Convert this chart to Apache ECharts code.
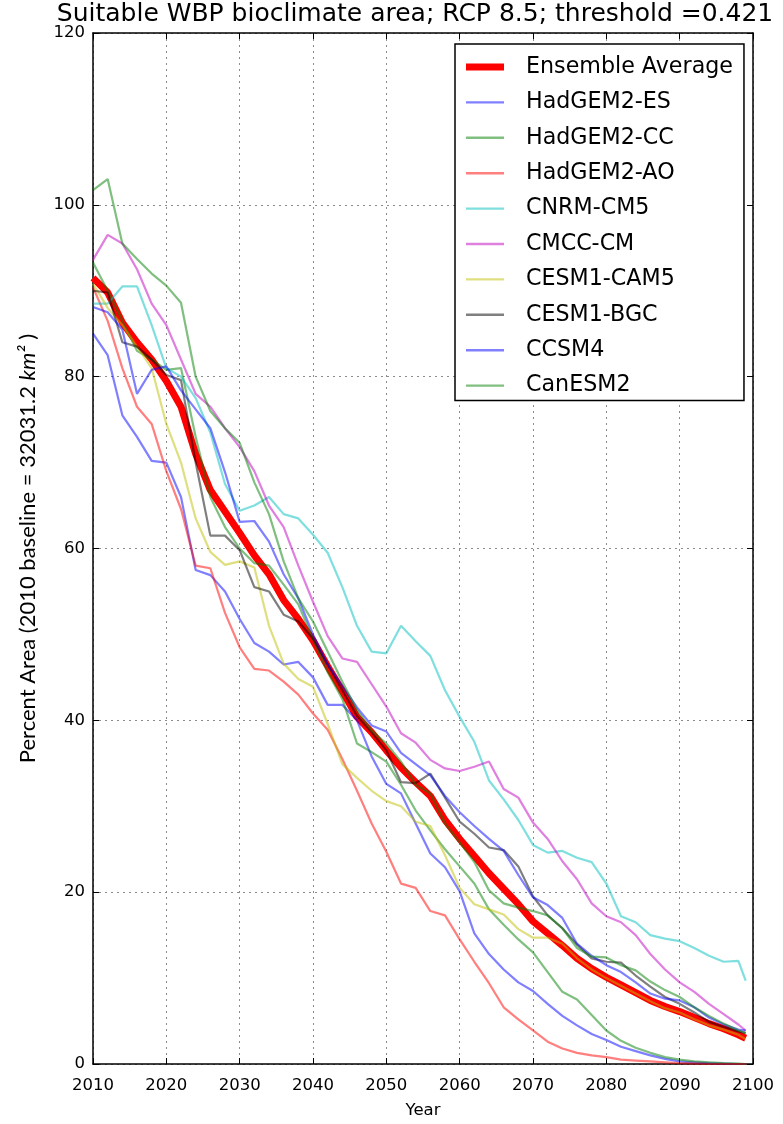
<!DOCTYPE html>
<html>
<head>
<meta charset="utf-8">
<title>Suitable WBP bioclimate area; RCP 8.5</title>
<script src="https://cdn.jsdelivr.net/npm/echarts@6/dist/echarts.min.js"></script>
<style>
  html, body { margin: 0; padding: 0; background: #fff; }
  #chart { width: 783px; height: 1124px; }
</style>
</head>
<body>
<div id="chart"></div>
<script>
// Simulation years (two-year steps, plus the final year)
const years = [2010, 2012, 2014, 2016, 2018, 2020, 2022, 2024, 2026, 2028,
  2030, 2032, 2034, 2036, 2038, 2040, 2042, 2044, 2046, 2048,
  2050, 2052, 2054, 2056, 2058, 2060, 2062, 2064, 2066, 2068,
  2070, 2072, 2074, 2076, 2078, 2080, 2082, 2084, 2086, 2088,
  2090, 2092, 2094, 2096, 2098, 2099];

// Percent of 2010 baseline area, per model
const ensembleAverage = [91.5, 89.8, 86.3, 84, 82, 79.5, 76.5, 71, 66.8, 64.3,
  61.8, 59.2, 57, 54, 51.8, 49.3, 46.3, 43.4, 40.4, 38.6,
  36.5, 34.5, 32.8, 31.2, 28.4, 26.2, 24.2, 22.2, 20.4, 18.6,
  16.6, 15.2, 13.8, 12.3, 11.1, 10.1, 9.2, 8.3, 7.4, 6.7,
  6.1, 5.4, 4.7, 4.1, 3.4, 3.0];
const hadgem2ES = [85, 82.5, 75.5, 73, 70.2, 70, 66, 57.5, 56.9, 55,
  51.8, 49, 48, 46.5, 46.8, 45, 41.8, 41.8, 40, 35.8,
  32.6, 31.5, 28, 24.5, 22.9, 20.1, 15.2, 12.8, 11, 9.5,
  8.5, 7, 5.6, 4.5, 3.5, 2.8, 2, 1.5, 1, 0.6,
  0.3, 0.2, 0.1, 0.05, 0, 0];
const hadgem2CC = [93.3, 90, 86.5, 83, 82, 80.8, 81, 73, 66, 62.5,
  60, 58.3, 58, 55.8, 53.5, 49.5, 45.6, 42.5, 37.3, 36.3,
  35.2, 32.5, 29.5, 27.2, 25, 23, 21, 18, 16.2, 14.5,
  13, 10.7, 8.4, 7.5, 5.7, 3.9, 2.7, 1.9, 1.3, 0.8,
  0.5, 0.3, 0.2, 0.1, 0.05, 0];
const hadgem2AO = [90.4, 86.5, 81, 76.5, 74.5, 69, 64.6, 58, 57.7, 52.5,
  48.5, 46, 45.8, 44.5, 43, 40.8, 38.9, 35.5, 31.8, 28,
  24.7, 21, 20.5, 17.8, 17.3, 14.5, 11.9, 9.4, 6.6, 5.2,
  3.9, 2.6, 1.8, 1.3, 1, 0.8, 0.5, 0.4, 0.3, 0.2,
  0.1, 0.05, 0, 0, 0, 0];
const cnrmCM5 = [88.5, 88.5, 90.5, 90.5, 86, 81, 80, 77.5, 73.5, 67.5,
  64.4, 65, 66, 64, 63.5, 61.6, 59.5, 55.5, 51, 48,
  47.8, 51, 49.2, 47.5, 43.5, 40.4, 37.5, 33, 30.8, 28.4,
  25.5, 24.6, 24.8, 24, 23.5, 21, 17.2, 16.5, 15, 14.6,
  14.3, 13.5, 12.6, 11.9, 12.0, 9.7];
const cmccCM = [93.6, 96.5, 95.5, 92.5, 88.5, 86, 82, 78, 76.5, 74,
  71.8, 69, 65, 62.5, 58, 53.8, 49.8, 47.2, 46.8, 44.2,
  41.6, 38.5, 37.4, 35.4, 34.4, 34.1, 34.6, 35.2, 32, 31,
  28.1, 26.2, 23.6, 21.5, 18.7, 17.2, 16.5, 15, 12.8, 11,
  9.5, 8.4, 7, 5.8, 4.6, 3.9];
const cesm1CAM5 = [90.8, 88, 86, 83.5, 81, 74.5, 70, 63.5, 59.6, 58.1,
  58.5, 57.8, 51, 46.6, 44.8, 43.9, 39.6, 34.9, 33.3, 31.8,
  30.6, 30, 28.2, 27.7, 24.3, 20.5, 18.6, 18, 17.4, 15.7,
  14.7, 14.7, 14, 12.3, 11, 10, 9.1, 8.2, 7.3, 6.5,
  6, 5.2, 4.5, 4, 3.4, 2.9];
const cesm1BGC = [90, 89.8, 84, 83.5, 82, 80.2, 79.6, 70, 61.5, 61.5,
  59.8, 55.5, 55, 52.3, 51.5, 49.5, 46.5, 43.5, 40.5, 38.6,
  36.5, 32.8, 32.7, 33.8, 31, 28.2, 26.8, 25.2, 24.9, 23,
  19.5, 17.3, 15.8, 13.9, 12.3, 11.9, 11.8, 10.3, 9, 7.8,
  7, 6, 4.9, 4.3, 3.8, 3.6];
const ccsm4 = [88.1, 87.5, 85.5, 78, 80.8, 81.2, 78.4, 76.2, 74, 68.9,
  63.1, 63.2, 60.8, 57, 54.2, 50, 46.5, 44, 41.5, 39.4,
  38.7, 36.2, 34.9, 33.6, 31.2, 29.3, 27.7, 26.2, 24.8, 22,
  19.4, 18.5, 17, 14, 12.6, 11.5, 10.7, 9.5, 8.2, 7.6,
  7.4, 6.6, 5.4, 4.6, 4, 3.9];
const canESM2 = [101.7, 103, 95.5, 93.7, 92, 90.6, 88.6, 80, 76, 74,
  72.3, 67.7, 64, 58.5, 54.2, 51.5, 48, 44.5, 41.2, 38.8,
  37.3, 35.2, 32.5, 31.5, 28, 25.8, 23.5, 20.2, 18.7, 18.2,
  17.8, 17.3, 15.8, 13.5, 12.5, 12.4, 11.5, 10.9, 9.6, 8.6,
  7.8, 6.6, 5.6, 4.7, 3.9, 3.6];

const seriesNames = ['Ensemble Average', 'HadGEM2-ES', 'HadGEM2-CC', 'HadGEM2-AO',
  'CNRM-CM5', 'CMCC-CM', 'CESM1-CAM5', 'CESM1-BGC', 'CCSM4', 'CanESM2'];
const seriesValues = [ensembleAverage, hadgem2ES, hadgem2CC, hadgem2AO,
  cnrmCM5, cmccCM, cesm1CAM5, cesm1BGC, ccsm4, canESM2];
const seriesColors = ['#ff0000', 'rgba(0,0,255,0.5)', 'rgba(0,128,0,0.5)', 'rgba(255,0,0,0.5)',
  'rgba(0,191,191,0.5)', 'rgba(191,0,191,0.5)', 'rgba(191,191,0,0.5)', 'rgba(0,0,0,0.5)',
  'rgba(0,0,255,0.5)', 'rgba(0,128,0,0.5)'];

const xTicks = { min: 2010, max: 2100, interval: 10 };
const yTicks = { min: 0, max: 120, interval: 20 };

const FONT = 'DejaVu Sans';
const frame = { show: true, onZero: false, lineStyle: { color: '#000', width: 1.5 } };
const ticks = { show: true, inside: true, length: 6, lineStyle: { color: '#000', width: 1 } };
const grid = { show: true, lineStyle: { color: '#8c8c8c', width: 1, type: [2, 4] } };

// Legend swatches: plain line segments, thick for the ensemble, thin for models
const thickSwatch = 'path://M0,0H38V7H0Z';
const thinSwatch = 'path://M0,0H38V2.4H0Z';

const chart = echarts.init(document.getElementById('chart'), null, { renderer: 'canvas' });

chart.setOption({
  animation: false,
  backgroundColor: '#fff',
  graphic: [{
    type: 'text',
    x: 415, y: 14,
    style: {
      text: 'Suitable WBP bioclimate area; RCP 8.5; threshold =0.421',
      font: '25px "DejaVu Sans"',
      fill: '#000',
      textAlign: 'center',
      textVerticalAlign: 'middle'
    }
  }],
  grid: { left: 93, right: 30, top: 33, bottom: 50 },
  xAxis: [{
    type: 'value', position: 'bottom', ...xTicks,
    axisLine: frame, axisTick: ticks, splitLine: grid,
    axisLabel: { color: '#000', fontFamily: FONT, fontSize: 16.5, margin: 13, formatter: v => String(v) },
    name: 'Year', nameLocation: 'middle', nameGap: 38,
    nameTextStyle: { color: '#000', fontFamily: FONT, fontSize: 16.5 }
  }, {
    type: 'value', position: 'top', ...xTicks,
    axisLine: frame, axisTick: ticks, splitLine: { show: false }, axisLabel: { show: false }
  }],
  yAxis: [{
    type: 'value', position: 'left', ...yTicks,
    axisLine: frame, axisTick: ticks, splitLine: grid,
    axisLabel: { color: '#000', fontFamily: FONT, fontSize: 16.5, margin: 8 },
    name: '{t|Percent Area (2010 baseline = 32031.2 }{i|km²}{t| )}',
    nameLocation: 'middle', nameRotate: 90, nameGap: 54,
    nameTextStyle: {
      color: '#000',
      rich: {
        t: { fontFamily: 'Lato', fontSize: 22, color: '#000' },
        i: { fontFamily: 'Lato', fontSize: 22, fontStyle: 'italic', color: '#000' }
      }
    }
  }, {
    type: 'value', position: 'right', ...yTicks,
    axisLine: frame, axisTick: ticks, splitLine: { show: false }, axisLabel: { show: false }
  }],
  legend: {
    orient: 'vertical',
    left: 455, top: 44,
    padding: [12, 11, 4, 11],
    itemWidth: 38, itemHeight: 14,
    itemGap: 13.4,
    symbolKeepAspect: true,
    selectedMode: false,
    backgroundColor: '#fff',
    borderColor: '#000', borderWidth: 1.5,
    textStyle: { color: '#000', fontFamily: FONT, fontSize: 22.2, lineHeight: 22, padding: [0, 0, 0, 17] },
    data: seriesNames.map((name, k) => ({ name, icon: k === 0 ? thickSwatch : thinSwatch }))
  },
  series: seriesNames.map((name, k) => ({
    name,
    type: 'line',
    xAxisIndex: 0, yAxisIndex: 0,
    symbol: 'none',
    clip: true,
    data: years.map((yr, i) => [yr, seriesValues[k][i]]),
    itemStyle: { color: seriesColors[k] },
    lineStyle: { color: seriesColors[k], width: k === 0 ? 7 : 2.2 },
    emphasis: { disabled: true }
  }))
});
</script>
</body>
</html>
